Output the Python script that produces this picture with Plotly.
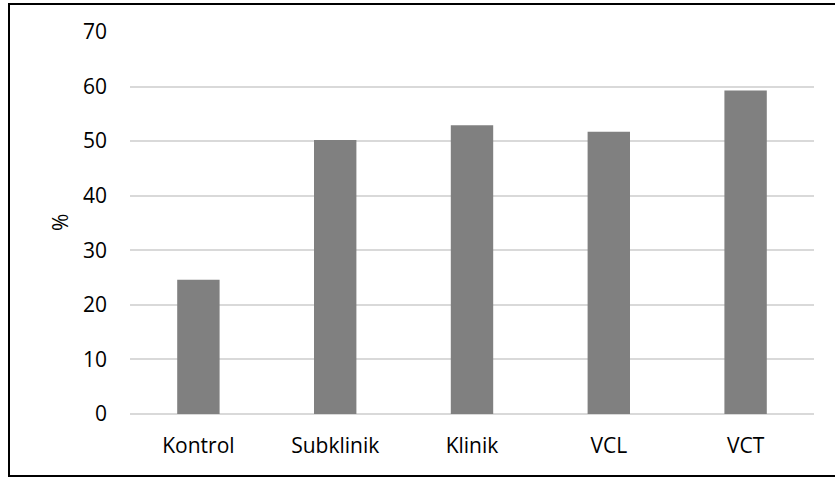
import plotly.graph_objects as go

categories = ["Kontrol", "Subklinik", "Klinik", "VCL", "VCT"]
values = [24.6, 50.2, 52.9, 51.7, 59.3]
y_ticks = [0, 10, 20, 30, 40, 50, 60, 70]

FONT = "Open Sans"
FS = 21

fig = go.Figure(go.Bar(
    x=categories, y=values,
    marker=dict(color="#808080", line=dict(width=0)),
    width=0.31,
))

W, H = 835, 477
L, R, T, B = 130, 21, 32, 63
pw = W - L - R
ph = H - T - B

fig.update_layout(
    width=W, height=H,
    margin=dict(l=L, r=R, t=T, b=B, autoexpand=False),
    paper_bgcolor="white", plot_bgcolor="white",
    font=dict(family=FONT, size=FS, color="#000000"),
    showlegend=False,
)
fig.update_yaxes(
    range=[0, 70], tickvals=y_ticks, ticktext=[str(v) for v in y_ticks],
    showgrid=True, gridcolor="#d9d9d9", gridwidth=1.5,
    zeroline=True, zerolinecolor="#d9d9d9", zerolinewidth=1.5,
    showline=False, ticks="", ticklabelstandoff=22,
    tickfont=dict(family=FONT, size=FS),
)
fig.update_xaxes(
    showgrid=False, showline=False, ticks="",
    ticklabelstandoff=17,
    tickfont=dict(family=FONT, size=FS),
)

# y-axis title
fig.add_annotation(
    text="%", xref="paper", yref="paper",
    x=(60 - L) / pw, y=0.5, xanchor="center", yanchor="middle",
    textangle=-90, showarrow=False, font=dict(family=FONT, size=FS),
)

# outer border (right side falls outside the picture)
fig.add_shape(
    type="rect", xref="paper", yref="paper",
    x0=(9 - L) / pw, x1=(840 - L) / pw,
    y0=-(476 - (T + ph)) / ph, y1=1 + (T - 4) / ph,
    line=dict(color="black", width=2), fillcolor="rgba(0,0,0,0)",
    layer="above",
)

fig.write_html(
    "out.html",
    config={"displayModeBar": False},
    post_script="document.body.style.margin='0';document.body.style.overflow='hidden';",
)
